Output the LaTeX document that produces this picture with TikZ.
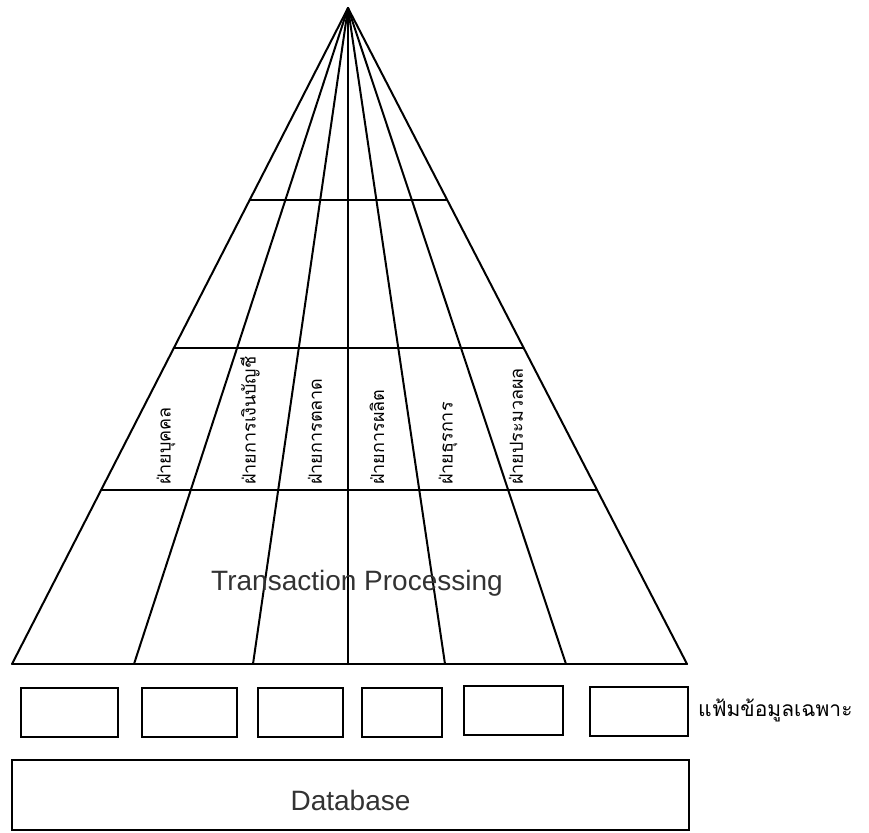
\documentclass[tikz,border=0pt]{standalone}
\usepackage{fontspec}
\setmainfont{Liberation Sans}
\newfontfamily\thaifont[Script=Thai]{Loma}
\usetikzlibrary{calc}
\tikzstyle{edge}=[line width=2pt,line cap=round]
\tikzstyle{filebox}=[draw,line width=2pt,inner sep=0pt,minimum height=49pt]
\tikzstyle{dept}=[rotate=90,anchor=west,inner sep=0pt,font=\thaifont\fontsize{18}{18}\selectfont]
\tikzstyle{title}=[inner sep=0pt,font=\fontsize{28}{28}\selectfont,text=black!80]

\begin{document}
\begin{tikzpicture}[x=1pt,y=-1pt]
    \useasboundingbox (0,0) rectangle (869,832);
    \coordinate (apex) at (348,8);
    \foreach \i/\x in {0/12,1/134,2/253,3/348,4/445,5/566,6/687}
      \coordinate (b\i) at (\x,664);
    \foreach \i in {0,...,6}
      \draw[edge] (apex) -- (b\i);
    \draw[edge] (b0) -- (b6);
    \foreach \r/\t in {1/0.2927,2/0.5183,3/0.7348}{
      \coordinate (l\r) at ($(apex)!\t!(b0)$);
      \coordinate (r\r) at ($(apex)!\t!(b6)$);
      \draw[edge] (l\r) -- (r\r);
    }
    \foreach \x/\lbl [count=\n] in {166/ฝ่ายบุคคล,250/ฝ่ายการเงินบัญชี,315/ฝ่ายการตลาด,377/ฝ่ายการผลิต,448/ฝ่ายธุรการ,516/ฝ่ายประมวลผล}
      \node[dept] (dept\n) at (\x,485) {\lbl};
    \node[title,anchor=base] (tps) at (357,590) {Transaction Processing};
    \foreach \a/\b/\y [count=\n] in {21/118/712,142/237/712,258/343/712,362/442/712,464/563/710,590/688/711}
      \node[filebox,minimum width={(\b-\a)*1pt}] (file\n) at ({(\a+\b)/2},\y) {};
    \node[anchor=west,inner sep=0pt,font=\thaifont\fontsize{21}{21}\selectfont] (filelbl) at (698,710) {แฟ้มข้อมูลเฉพาะ};
    \node[filebox,title,minimum width=677pt,minimum height=70pt,text height=30pt,text depth=0pt] (db) at (350.5,795) {Database};
  \end{tikzpicture}
\end{document}
